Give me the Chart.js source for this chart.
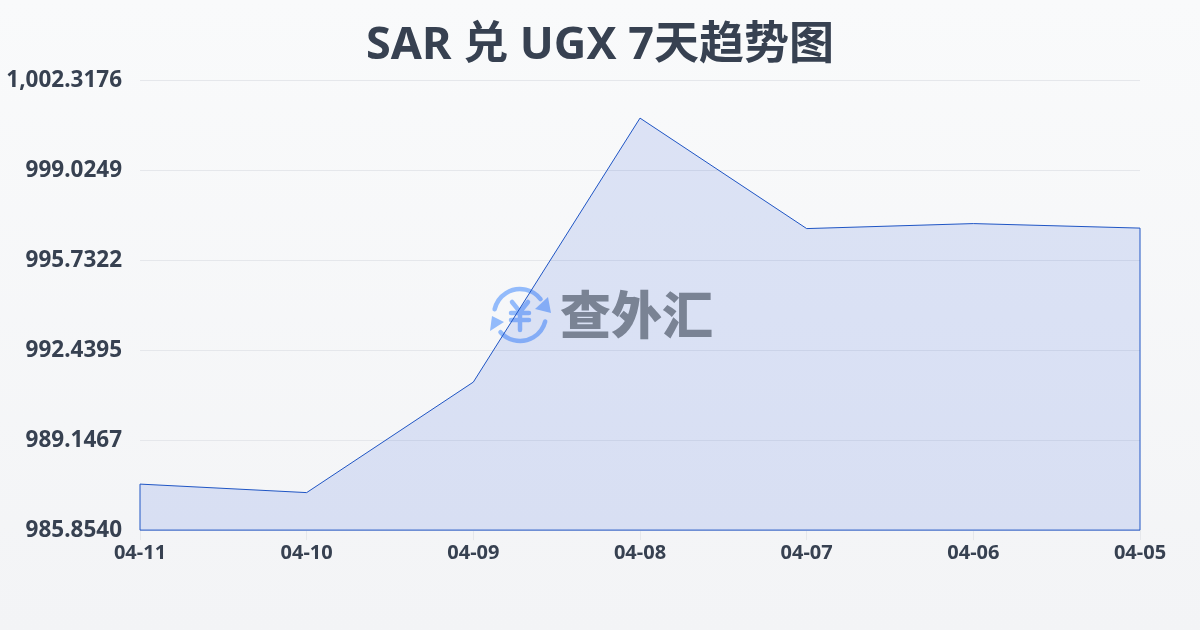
<!DOCTYPE html>
<html>
<head>
<meta charset="utf-8">
<style>
  html, body { margin: 0; padding: 0; }
  body { width: 1200px; height: 630px; overflow: hidden; background: linear-gradient(180deg, #f9fafb, #f3f4f6); }
  #wrap { width: 1200px; height: 630px; }
</style>
<script src="https://cdn.jsdelivr.net/npm/chart.js@4"></script>
</head>
<body>
<div id="wrap"><canvas id="rateChart" width="1200" height="630"></canvas></div>
<script>
const chartTitle = "SAR 兑 UGX 7天趋势图";
const dates = ["04-11", "04-10", "04-09", "04-08", "04-07", "04-06", "04-05"];
const rates = [987.537, 987.226, 991.269, 1000.927, 996.885, 997.068, 996.903];
const yTicks = [985.8540, 989.1467, 992.4395, 995.7322, 999.0249, 1002.3176];

const labelColor = "#374151";
const lineColor = "#1f55c4";

// the baseline and both sides of the area are outlined too
const areaOutline = {
  id: "areaOutline",
  afterDatasetsDraw(chart) {
    const { ctx, scales: { x, y } } = chart;
    const bottom = y.getPixelForValue(yTicks[0]);
    ctx.save();
    ctx.strokeStyle = lineColor;
    ctx.lineWidth = 1;
    ctx.beginPath();
    ctx.moveTo(x.getPixelForValue(0), y.getPixelForValue(rates[0]));
    ctx.lineTo(x.getPixelForValue(0), bottom);
    ctx.lineTo(x.getPixelForValue(dates.length - 1), bottom);
    ctx.lineTo(x.getPixelForValue(dates.length - 1), y.getPixelForValue(rates[rates.length - 1]));
    ctx.stroke();
    ctx.restore();
  }
};

// title is centred on the whole canvas, not on the padded chart box
const canvasTitle = {
  id: "canvasTitle",
  afterDraw(chart) {
    const ctx = chart.ctx;
    ctx.save();
    ctx.fillStyle = labelColor;
    ctx.font = "bold 45px 'Noto Sans', 'Noto Sans CJK SC'";
    ctx.textAlign = "center";
    ctx.textBaseline = "middle";
    ctx.fillText(chartTitle, 600, 46);
    ctx.restore();
  }
};

// logo in the middle of the plot: icon under the area, wordmark over it
const watermark = {
  id: "watermark",
  beforeDatasetsDraw(chart) {
    const ctx = chart.ctx;
    const cx = 520, cy = 315, r = 26;
    ctx.save();
    ctx.strokeStyle = "#93bbfb";
    ctx.fillStyle = "#93bbfb";
    ctx.lineWidth = 4.5;
    ctx.lineCap = "round";
    ctx.beginPath();
    ctx.arc(cx, cy, r, Math.PI * 1.07, Math.PI * 1.79);
    ctx.stroke();
    ctx.beginPath();
    ctx.arc(cx, cy, r, Math.PI * 0.08, Math.PI * 0.77);
    ctx.stroke();
    ctx.beginPath();
    ctx.moveTo(548, 297); ctx.lineTo(551, 313); ctx.lineTo(535, 309);
    ctx.closePath();
    ctx.fill();
    ctx.beginPath();
    ctx.moveTo(492, 316); ctx.lineTo(504, 322); ctx.lineTo(490, 331);
    ctx.closePath();
    ctx.fill();
    ctx.beginPath();
    ctx.moveTo(512, 302); ctx.lineTo(520, 312); ctx.lineTo(528, 302);
    ctx.moveTo(520, 312); ctx.lineTo(520, 330);
    ctx.moveTo(511, 313); ctx.lineTo(529, 313);
    ctx.moveTo(511, 320); ctx.lineTo(529, 320);
    ctx.stroke();
    ctx.restore();
  },
  afterDatasetsDraw(chart) {
    const ctx = chart.ctx;
    ctx.save();
    ctx.fillStyle = "#7a8394";
    ctx.font = "900 51px 'Noto Sans CJK SC'";
    ctx.textAlign = "left";
    ctx.textBaseline = "middle";
    ctx.fillText("查外汇", 560, 315);
    ctx.restore();
  }
};

new Chart(document.getElementById("rateChart").getContext("2d"), {
  type: "line",
  data: {
    labels: dates,
    datasets: [{
      data: rates,
      borderColor: lineColor,
      borderWidth: 1,
      backgroundColor: "rgba(29, 78, 216, 0.13)",
      fill: "start",
      tension: 0,
      pointRadius: 0
    }]
  },
  options: {
    responsive: false,
    animation: false,
    layout: { padding: { top: 80.1, right: 60 } },
    plugins: {
      legend: { display: false },
      tooltip: { enabled: false },
      title: { display: false }
    },
    scales: {
      x: {
        offset: false,
        border: { display: false },
        grid: { drawOnChartArea: false, tickLength: 10, color: "#e5e7eb" },
        ticks: {
          color: labelColor,
          padding: 1,
          maxRotation: 0,
          autoSkip: false,
          font: { family: "'Noto Sans'", size: 20, weight: "bold" }
        },
        afterFit(scale) { scale.height = 99.9; }
      },
      y: {
        min: yTicks[0],
        max: yTicks[yTicks.length - 1],
        border: { display: false },
        grid: { color: "#e5e7eb", drawTicks: false },
        afterBuildTicks(scale) { scale.ticks = yTicks.map(value => ({ value })); },
        afterFit(scale) { scale.width = 140; },
        ticks: {
          color: labelColor,
          padding: 18,
          font: { family: "'Noto Sans'", size: 22.5, weight: "bold" },
          callback(value) {
            return value.toLocaleString("en-US", { minimumFractionDigits: 4, maximumFractionDigits: 4 });
          }
        }
      }
    }
  },
  plugins: [watermark, areaOutline, canvasTitle]
});
</script>
</body>
</html>
